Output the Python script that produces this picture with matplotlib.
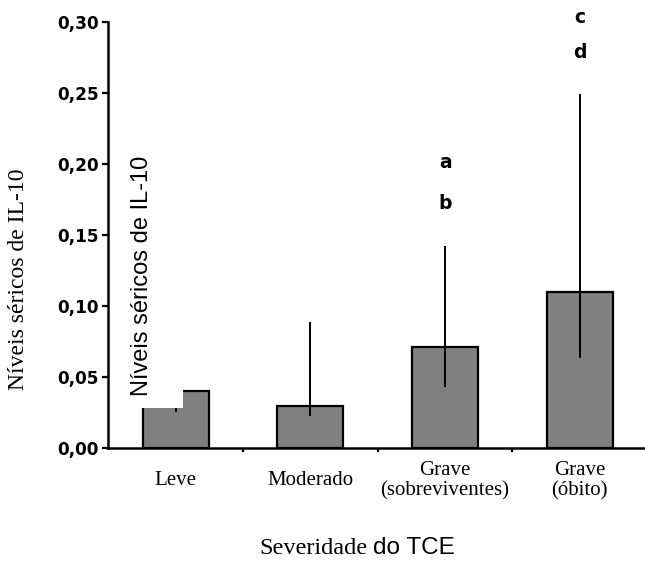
import numpy as np
from matplotlib import pyplot as plt
from matplotlib.patches import Rectangle

# data
categories = ['Leve', 'Moderado', 'Grave\n(sobreviventes)', 'Grave\n(óbito)']
means = [0.040, 0.030, 0.0715, 0.110]
err_low = [0.0255, 0.0227, 0.043, 0.0633]
err_high = [0.060, 0.089, 0.1425, 0.249]
letters = [(2, 0.201, 'a'), (2, 0.172, 'b'), (3, 0.303, 'c'), (3, 0.278, 'd')]
yticks = [0.0, 0.05, 0.10, 0.15, 0.20, 0.25, 0.30]

serif = 'Liberation Serif'
sans = 'Liberation Sans'

fig = plt.figure(figsize=(6.45, 5.61), dpi=100)
ax = fig.add_axes([0.1679, 0.2009, 0.8354, 0.7605])
x = np.arange(len(categories))

ax.bar(x, means, width=0.49, color='#808080', edgecolor='black', linewidth=1.6, zorder=1)
ax.vlines(x, err_low, err_high, color='black', linewidth=1.4, zorder=2)

for xi, yi, t in letters:
    ax.text(xi, yi, t, ha='center', va='center', fontsize=13.5, fontweight='bold',
            family='DejaVu Sans', clip_on=False)

ax.set_xlim(-0.5, 3.5)
ax.set_ylim(0, 0.30)
ax.set_yticks(yticks)
ax.set_yticklabels([f'{v:.2f}'.replace('.', ',') for v in yticks],
                   fontsize=12.2, fontweight='bold', family='DejaVu Sans')
ax.tick_params(axis='y', direction='out', length=4, width=1.6, pad=3)

ax.set_xticks(x)
ax.set_xticklabels(categories, fontsize=15, family=serif, va='center', linespacing=1.1)
ax.set_xticks(x[:-1] + 0.5, minor=True)
ax.tick_params(axis='x', which='major', length=0, pad=23.5)
ax.tick_params(axis='x', which='minor', direction='out', length=3, width=1.6)

for side in ['top', 'right']:
    ax.spines[side].set_visible(False)
for side in ['left', 'bottom']:
    ax.spines[side].set_linewidth(1.8)
    ax.spines[side].set_zorder(2.5)

# white box with the pasted-in label
ax.add_patch(Rectangle((0.1705, 0.2727), 0.1132, 0.47, transform=fig.transFigure,
                       facecolor='white', edgecolor='none', zorder=2.2, clip_on=False))
fig.text(0.2202, 0.508, 'Níveis séricos de IL-10', rotation=90, ha='center', va='center',
         fontsize=17, family=sans, zorder=3)

fig.text(0.0287, 0.503, 'Níveis séricos de IL-10', rotation=90, ha='center', va='center',
         fontsize=17, family=serif)

fig.text(0.5705, 0.0125, 'Severidade', ha='right', va='baseline', fontsize=17.5, family=serif)
fig.text(0.5783, 0.0125, 'do TCE', ha='left', va='baseline', fontsize=17.5, family=sans)

plt.savefig('out.png', dpi=100)
